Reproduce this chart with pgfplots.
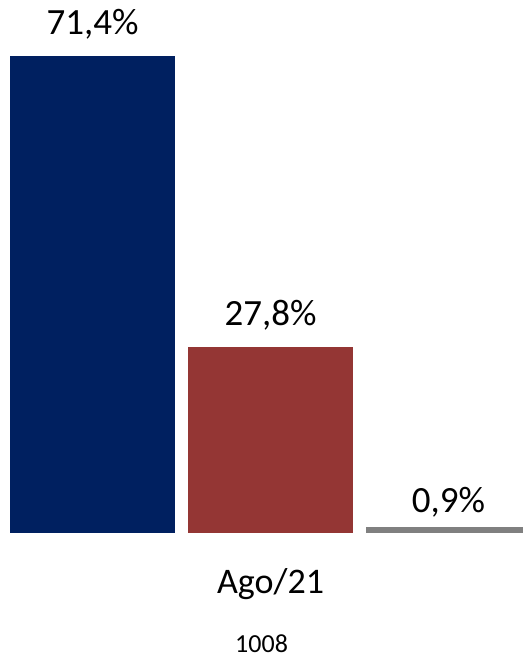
\documentclass[border=0pt]{standalone}
\usepackage{pgfplots}
\pgfplotsset{compat=1.18}
\usepackage{fontspec}
\setmainfont{Carlito}
\definecolor{navy}{HTML}{002060}
\definecolor{brick}{HTML}{943634}
\definecolor{midgray}{HTML}{808080}
\begin{document}
\begin{tikzpicture}
\useasboundingbox (0,0) rectangle (523bp,658bp);
\clip (0,0) rectangle (523bp,658bp);
\begin{axis}[
  at={(3.5bp,125bp)}, anchor=south west,
  x=178bp, y=6.68bp,
  xmin=-0.5, xmax=2.5, ymin=0, ymax=80,
  axis lines=none, ticks=none, clip=false,
  ybar, bar width=165bp,
  point meta=explicit symbolic,
  nodes near coords,
  nodes near coords style={anchor=base, font=\fontsize{37bp}{42bp}\selectfont, text=black},
]
\addplot[fill=navy, draw=none, bar shift=0pt, nodes near coords style={yshift=22bp}] coordinates {(0,71.4)[71,4\%]};
\addplot[fill=brick, draw=none, bar shift=0pt, nodes near coords style={yshift=22bp}] coordinates {(1,27.8)[27,8\%]};
\addplot[fill=midgray, draw=none, bar shift=0pt, nodes near coords style={yshift=14bp}] coordinates {(2,0.9)[0,9\%]};
\node[anchor=base, font=\fontsize{36bp}{40bp}\selectfont] at (axis cs:1,0) [yshift=-60bp] {Ago/21};
\node[anchor=base, font=\fontsize{26bp}{30bp}\selectfont] at (axis cs:0.95,0) [yshift=-119bp] {1008};
\end{axis}
\end{tikzpicture}
\end{document}
